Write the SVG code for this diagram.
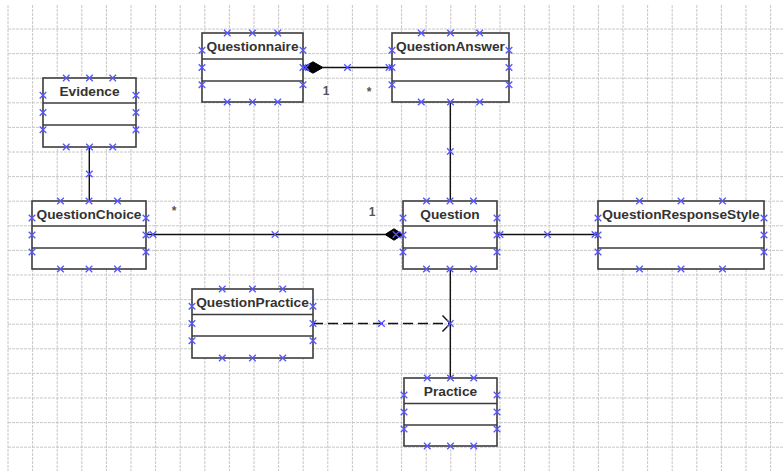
<svg xmlns="http://www.w3.org/2000/svg" xmlns:xlink="http://www.w3.org/1999/xlink" width="784" height="471" viewBox="0 0 784 471">
  <style>
    .grid { stroke: #c8c8c8; stroke-width: 1; stroke-dasharray: 3 1; fill: none; }
    .box { fill: #ffffff; stroke: #3c3c3c; stroke-width: 1.6; }
    .sep { stroke: #3c3c3c; stroke-width: 1.6; }
    .title { font-family: "Liberation Sans", Arial, sans-serif; font-size: 13.7px; font-weight: bold; fill: #333333; text-anchor: middle; }
    .mult { font-family: "Liberation Sans", Arial, sans-serif; font-size: 12px; font-weight: bold; fill: #555555; text-anchor: middle; }
    .edge { stroke: #111111; stroke-width: 1.4; fill: none; }
    .dash { stroke-dasharray: 10 5; }
    .xm { stroke: #5555ff; stroke-width: 1.3; fill: none; }
  </style>
  <defs>
    <path id="x" class="xm" d="M-3.3,-3.3L3.3,3.3M-3.3,3.3L3.3,-3.3"/>
  </defs>

  <rect width="784" height="471" fill="#ffffff"/>

  <!-- background grid, 24.6px pitch -->
  <g id="grid" class="grid">
    <path d="M8,5V471M32.6,5V471M57.2,5V471M81.8,5V471M106.4,5V471M131,5V471M155.6,5V471M180.2,5V471M204.8,5V471M229.4,5V471M254,5V471M278.6,5V471M303.2,5V471M327.8,5V471M352.4,5V471M377,5V471M401.6,5V471M426.2,5V471M450.8,5V471M475.4,5V471M500,5V471M524.6,5V471M549.2,5V471M573.8,5V471M598.4,5V471M623,5V471M647.6,5V471M672.2,5V471M696.8,5V471M721.4,5V471M746,5V471M770.6,5V471"/>
    <path d="M8,29H784M8,53.6H784M8,78.2H784M8,102.8H784M8,127.4H784M8,152H784M8,176.6H784M8,201.2H784M8,225.8H784M8,250.4H784M8,275H784M8,299.6H784M8,324.2H784M8,348.8H784M8,373.4H784M8,398H784M8,422.6H784M8,447.2H784"/>
  </g>

  <!-- associations -->
  <g id="connectors">
    <!-- Questionnaire <>— QuestionAnswer (composition) -->
    <path class="edge" d="M323,67.5H392"/>
    <path d="M303,67.5L313,61.8L323,67.5L313,73.2Z" fill="#000000" stroke="#000000" stroke-width="1"/>
    <text class="mult" x="326" y="95">1</text>
    <text class="mult" x="369" y="96">*</text>
    <!-- QuestionAnswer — Question -->
    <path class="edge" d="M450.3,102V201"/>
    <!-- Evidence — QuestionChoice -->
    <path class="edge" d="M89.3,147V201"/>
    <!-- QuestionChoice —<> Question (composition) -->
    <path class="edge" d="M146,234.5H385"/>
    <path d="M403,234.5L394,228.8L385,234.5L394,240.2Z" fill="#000000" stroke="#000000" stroke-width="1"/>
    <text class="mult" x="174" y="215">*</text>
    <text class="mult" x="372" y="216">1</text>
    <!-- Question — QuestionResponseStyle -->
    <path class="edge" d="M497,234.5H598"/>
    <!-- Question — Practice -->
    <path class="edge" d="M450.3,269V378"/>
    <!-- QuestionPractice - - > association -->
    <path class="edge dash" d="M313,323.5H450"/>
    <path class="edge" d="M442.5,315.5L450.3,323.5L442.5,331.5"/>

    <!-- connector handles -->
    <use href="#x" x="306" y="67.5"/>
    <use href="#x" x="347.5" y="67.5"/>
    <use href="#x" x="389" y="67.5"/>
    <use href="#x" x="450.3" y="151.5"/>
    <use href="#x" x="89.3" y="174"/>
    <use href="#x" x="153" y="234.5"/>
    <use href="#x" x="275" y="234.5"/>
    <use href="#x" x="396" y="234.5"/>
    <use href="#x" x="500" y="234.5"/>
    <use href="#x" x="547.5" y="234.5"/>
    <use href="#x" x="595" y="234.5"/>
    <use href="#x" x="450.3" y="323.5"/>
    <use href="#x" x="381.5" y="323.5"/>
  </g>

  <g id="Questionnaire">
    <rect class="box" x="202" y="33" width="101" height="69"/>
    <path class="sep" d="M202,59H303M202,81H303"/>
    <text class="title" x="252.5" y="51">Questionnaire</text>
    <use href="#x" x="227.25" y="33"/><use href="#x" x="252.5" y="33"/><use href="#x" x="277.75" y="33"/>
    <use href="#x" x="227.25" y="102"/><use href="#x" x="252.5" y="102"/><use href="#x" x="277.75" y="102"/>
    <use href="#x" x="202" y="50.25"/><use href="#x" x="202" y="67.5"/><use href="#x" x="202" y="84.75"/>
    <use href="#x" x="303" y="50.25"/><use href="#x" x="303" y="67.5"/><use href="#x" x="303" y="84.75"/>
  </g>

  <g id="QuestionAnswer">
    <rect class="box" x="392" y="33" width="117" height="69"/>
    <path class="sep" d="M392,59H509M392,81H509"/>
    <text class="title" x="450.5" y="51">QuestionAnswer</text>
    <use href="#x" x="421.25" y="33"/><use href="#x" x="450.5" y="33"/><use href="#x" x="479.75" y="33"/>
    <use href="#x" x="421.25" y="102"/><use href="#x" x="450.5" y="102"/><use href="#x" x="479.75" y="102"/>
    <use href="#x" x="392" y="50.25"/><use href="#x" x="392" y="67.5"/><use href="#x" x="392" y="84.75"/>
    <use href="#x" x="509" y="50.25"/><use href="#x" x="509" y="67.5"/><use href="#x" x="509" y="84.75"/>
  </g>

  <g id="Evidence">
    <rect class="box" x="43" y="78" width="93" height="69"/>
    <path class="sep" d="M43,103H136M43,125H136"/>
    <text class="title" x="89.5" y="96">Evidence</text>
    <use href="#x" x="66.25" y="78"/><use href="#x" x="89.5" y="78"/><use href="#x" x="112.75" y="78"/>
    <use href="#x" x="66.25" y="147"/><use href="#x" x="89.5" y="147"/><use href="#x" x="112.75" y="147"/>
    <use href="#x" x="43" y="95.25"/><use href="#x" x="43" y="112.5"/><use href="#x" x="43" y="129.75"/>
    <use href="#x" x="136" y="95.25"/><use href="#x" x="136" y="112.5"/><use href="#x" x="136" y="129.75"/>
  </g>

  <g id="QuestionChoice">
    <rect class="box" x="32" y="201" width="114" height="68"/>
    <path class="sep" d="M32,226H146M32,248H146"/>
    <text class="title" x="89" y="219">QuestionChoice</text>
    <use href="#x" x="60.5" y="201"/><use href="#x" x="89" y="201"/><use href="#x" x="117.5" y="201"/>
    <use href="#x" x="60.5" y="269"/><use href="#x" x="89" y="269"/><use href="#x" x="117.5" y="269"/>
    <use href="#x" x="32" y="218"/><use href="#x" x="32" y="235"/><use href="#x" x="32" y="252"/>
    <use href="#x" x="146" y="218"/><use href="#x" x="146" y="235"/><use href="#x" x="146" y="252"/>
  </g>

  <g id="Question">
    <rect class="box" x="403" y="201" width="94" height="68"/>
    <path class="sep" d="M403,226H497M403,248H497"/>
    <text class="title" x="450" y="219">Question</text>
    <use href="#x" x="426.5" y="201"/><use href="#x" x="450" y="201"/><use href="#x" x="473.5" y="201"/>
    <use href="#x" x="426.5" y="269"/><use href="#x" x="450" y="269"/><use href="#x" x="473.5" y="269"/>
    <use href="#x" x="403" y="218"/><use href="#x" x="403" y="235"/><use href="#x" x="403" y="252"/>
    <use href="#x" x="497" y="218"/><use href="#x" x="497" y="235"/><use href="#x" x="497" y="252"/>
  </g>

  <g id="QuestionResponseStyle">
    <rect class="box" x="598" y="201" width="166" height="68"/>
    <path class="sep" d="M598,226H764M598,248H764"/>
    <text class="title" x="681" y="219">QuestionResponseStyle</text>
    <use href="#x" x="639.5" y="201"/><use href="#x" x="681" y="201"/><use href="#x" x="722.5" y="201"/>
    <use href="#x" x="639.5" y="269"/><use href="#x" x="681" y="269"/><use href="#x" x="722.5" y="269"/>
    <use href="#x" x="598" y="218"/><use href="#x" x="598" y="235"/><use href="#x" x="598" y="252"/>
    <use href="#x" x="764" y="218"/><use href="#x" x="764" y="235"/><use href="#x" x="764" y="252"/>
  </g>

  <g id="QuestionPractice">
    <rect class="box" x="192" y="289" width="121" height="69"/>
    <path class="sep" d="M192,314.5H313M192,336H313"/>
    <text class="title" x="252.5" y="307">QuestionPractice</text>
    <use href="#x" x="222.25" y="289"/><use href="#x" x="252.5" y="289"/><use href="#x" x="282.75" y="289"/>
    <use href="#x" x="222.25" y="358"/><use href="#x" x="252.5" y="358"/><use href="#x" x="282.75" y="358"/>
    <use href="#x" x="192" y="306.25"/><use href="#x" x="192" y="323.5"/><use href="#x" x="192" y="340.75"/>
    <use href="#x" x="313" y="306.25"/><use href="#x" x="313" y="323.5"/><use href="#x" x="313" y="340.75"/>
  </g>

  <g id="Practice">
    <rect class="box" x="404" y="378" width="93" height="68"/>
    <path class="sep" d="M404,403.5H497M404,425H497"/>
    <text class="title" x="450.5" y="396">Practice</text>
    <use href="#x" x="427.25" y="378"/><use href="#x" x="450.5" y="378"/><use href="#x" x="473.75" y="378"/>
    <use href="#x" x="427.25" y="446"/><use href="#x" x="450.5" y="446"/><use href="#x" x="473.75" y="446"/>
    <use href="#x" x="404" y="395"/><use href="#x" x="404" y="412"/><use href="#x" x="404" y="429"/>
    <use href="#x" x="497" y="395"/><use href="#x" x="497" y="412"/><use href="#x" x="497" y="429"/>
  </g>
</svg>
